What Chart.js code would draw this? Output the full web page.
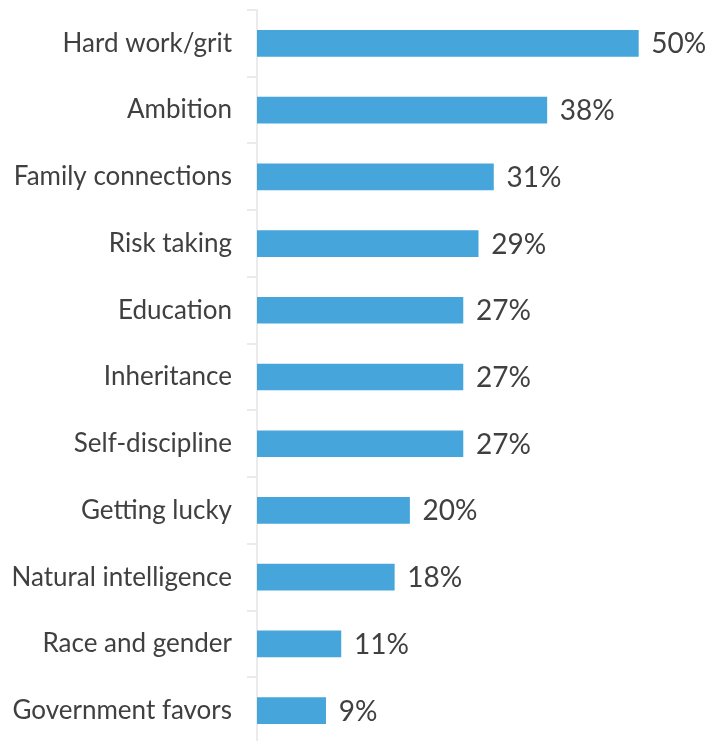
<!DOCTYPE html>
<html>
<head>
<meta charset="utf-8">
<script src="https://cdn.jsdelivr.net/npm/chart.js@4.4.1/dist/chart.umd.min.js"></script>
<style>
  html, body { margin: 0; padding: 0; background: #fff; overflow: hidden; }
  #wrap { width: 709px; height: 744px; }
</style>
</head>
<body>
<div id="wrap"><canvas id="chart"></canvas></div>
<script>
// data
const categories = ['Hard work/grit', 'Ambition', 'Family connections', 'Risk taking', 'Education',
  'Inheritance', 'Self-discipline', 'Getting lucky', 'Natural intelligence', 'Race and gender', 'Government favors'];
const shares = [50, 38, 31, 29, 27, 27, 27, 20, 18, 11, 9];
const valueLabels = shares.map(v => v + '%');

// draw the "50%" style labels at the end of each bar
const endLabels = {
  id: 'endLabels',
  afterDatasetsDraw(chart) {
    const ctx = chart.ctx;
    const meta = chart.getDatasetMeta(0);
    ctx.save();
    ctx.font = '28px Lato';
    ctx.fillStyle = '#404040';
    ctx.textAlign = 'left';
    ctx.textBaseline = 'middle';
    meta.data.forEach((bar, i) => {
      ctx.fillText(valueLabels[i], bar.x + 13, bar.y + 1);
    });
    ctx.restore();
  }
};

const ctx = document.getElementById('chart').getContext('2d');
new Chart(ctx, {
  type: 'bar',
  data: {
    labels: categories,
    datasets: [{
      data: shares,
      backgroundColor: '#46a5da',
      barThickness: 26
    }]
  },
  options: {
    indexAxis: 'y',
    responsive: true,
    maintainAspectRatio: false,
    animation: false,
    layout: { padding: { top: 10, right: 2, bottom: 0, left: 0 } },
    plugins: {
      legend: { display: false },
      tooltip: { enabled: false }
    },
    scales: {
      x: {
        display: false,
        min: 0,
        max: 59
      },
      y: {
        afterFit(scale) {
          scale.width = 257;
          scale.paddingTop = 0;
          scale.paddingBottom = 0;
        },
        border: { display: true, color: '#ebebeb', width: 2 },
        grid: {
          drawOnChartArea: false,
          drawTicks: true,
          tickLength: 10,
          color: '#ebebeb',
          lineWidth: 2
        },
        ticks: {
          padding: 15,
          color: '#404040',
          font: { family: 'Lato', size: 26 }
        }
      }
    }
  },
  plugins: [endLabels]
});
</script>
</body>
</html>
